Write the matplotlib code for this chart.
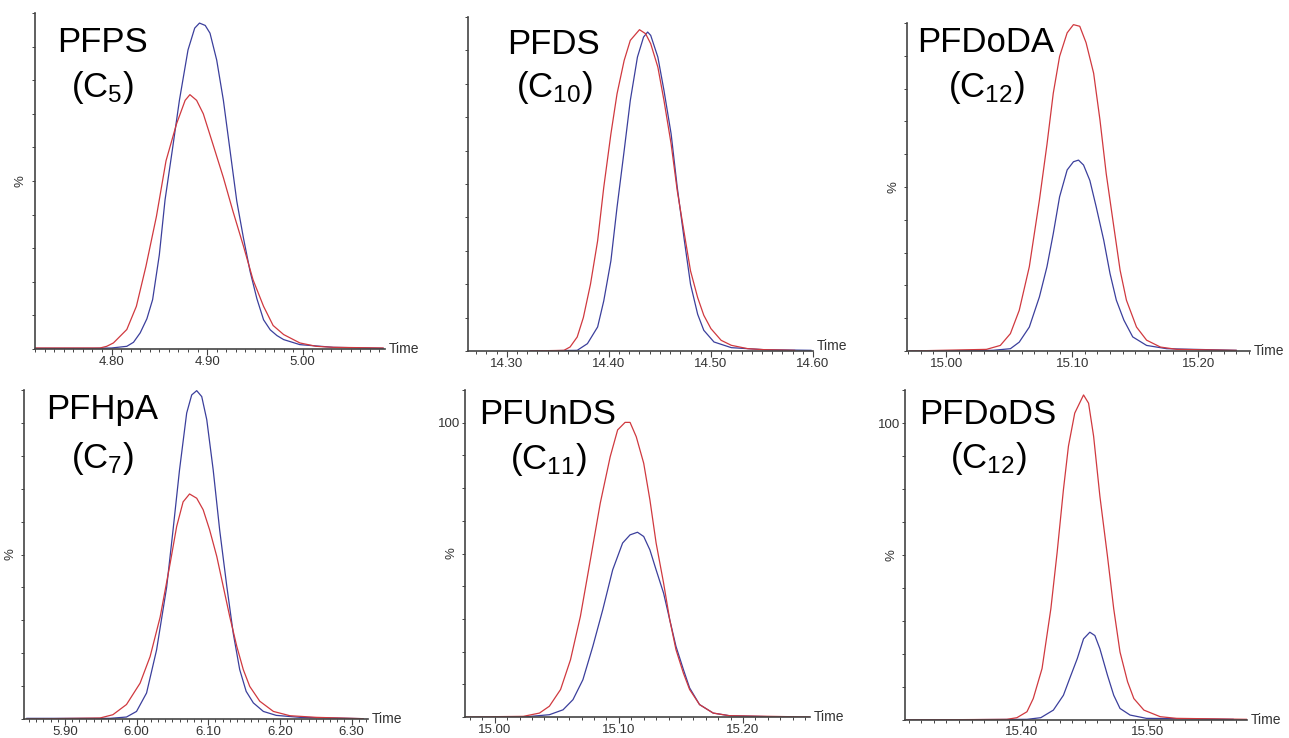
import matplotlib
matplotlib.use('Agg')
import matplotlib.pyplot as plt
from matplotlib.ticker import MultipleLocator, FixedLocator

plt.rcParams['font.family'] = ['Liberation Sans', 'DejaVu Sans']

# ---- data (time in min, intensity in %) ----
# PFPS (C5)
pfps_blue_t = [4.720, 4.781, 4.800, 4.816, 4.823, 4.830, 4.837, 4.843, 4.850, 4.856, 4.864, 4.871,
               4.880, 4.887, 4.892, 4.898, 4.903, 4.910, 4.917, 4.924, 4.931, 4.938, 4.945, 4.952,
               4.959, 4.966, 4.973, 4.980, 4.997, 5.032, 5.084]
pfps_blue_y = [0.2, 0.2, 0.3, 0.8, 2.0, 4.8, 9.0, 14.7, 28, 44.4, 60, 74,
               89, 95.5, 97.0, 96.3, 94, 86, 74, 59, 44, 33, 23, 15,
               8.7, 5.7, 4.0, 2.8, 1.3, 0.5, 0.2]
pfps_red_t = [4.720, 4.788, 4.795, 4.802, 4.816, 4.826, 4.836, 4.847, 4.857, 4.868, 4.877, 4.882,
              4.889, 4.896, 4.906, 4.917, 4.927, 4.938, 4.948, 4.959, 4.969, 4.980, 4.997, 5.014,
              5.032, 5.084]
pfps_red_y = [0.3, 0.3, 0.8, 1.8, 5.8, 12.7, 24.6, 39.5, 56, 67, 74, 75.7,
              74, 70, 61, 51, 41, 30.6, 20.6, 12.7, 7, 4.3, 1.8, 0.8,
              0.5, 0.3]

# PFDS (C10)
pfds_blue_t = [14.323, 14.369, 14.379, 14.389, 14.395, 14.402, 14.408, 14.415, 14.421, 14.428,
               14.434, 14.438, 14.441, 14.448, 14.454, 14.461, 14.467, 14.474, 14.480, 14.487,
               14.493, 14.503, 14.520, 14.552, 14.598]
pfds_blue_y = [0, 0.2, 2.2, 7.2, 15, 27, 43, 60, 75, 88,
               94, 95.5, 94.5, 88, 78, 65, 49, 33, 20, 11,
               6.2, 2.7, 1.0, 0.4, 0.2]
pfds_red_t = [14.323, 14.356, 14.362, 14.369, 14.375, 14.382, 14.389, 14.395, 14.402, 14.408,
              14.415, 14.421, 14.430, 14.436, 14.441, 14.448, 14.454, 14.461, 14.467, 14.474,
              14.480, 14.487, 14.493, 14.500, 14.510, 14.520, 14.536, 14.552, 14.582]
pfds_red_y = [0, 0.2, 1.2, 4.2, 10, 20, 33, 49, 65, 77,
              87, 93, 96.2, 95, 92, 85, 75, 62, 48, 35,
              24, 16, 10.7, 6.7, 3.2, 1.7, 0.7, 0.4, 0.2]

# PFDoDA (C12)
pfdoda_blue_t = [14.971, 15.037, 15.051, 15.058, 15.066, 15.074, 15.080, 15.085, 15.090, 15.096,
                 15.101, 15.105, 15.109, 15.114, 15.119, 15.125, 15.130, 15.135, 15.141, 15.148,
                 15.159, 15.175, 15.230]
pfdoda_blue_y = [0, 0.2, 0.7, 2.7, 7.3, 16.5, 25.7, 35.8, 47, 55.2,
                 57.7, 58.2, 56.7, 52, 44, 33.8, 23.6, 15.5, 9.4, 4.3,
                 1.7, 0.7, 0.2]
pfdoda_red_t = [14.971, 15.032, 15.043, 15.051, 15.058, 15.066, 15.074, 15.080, 15.085, 15.090,
                15.096, 15.101, 15.106, 15.111, 15.117, 15.122, 15.127, 15.133, 15.138, 15.143,
                15.151, 15.159, 15.170, 15.183, 15.230]
pfdoda_red_y = [0, 0.5, 1.7, 5.3, 12.4, 25.7, 46, 63, 78.6, 89.8,
                97, 99.5, 99, 94, 84.7, 70.5, 54, 37.9, 24.6, 15.5,
                7.3, 3.3, 1.2, 0.5, 0.2]

# PFHpA (C7)
pfhpa_blue_t = [5.847, 5.963, 5.986, 6.000, 6.014, 6.028, 6.042, 6.051, 6.060, 6.070,
                6.077, 6.084, 6.091, 6.098, 6.107, 6.116, 6.126, 6.135, 6.144, 6.153,
                6.163, 6.177, 6.195, 6.228, 6.274, 6.316]
pfhpa_blue_y = [0.2, 0.2, 0.6, 2.3, 7.9, 21, 40, 57.5, 75.7, 93,
                98.5, 99.8, 98, 91, 75.7, 57.5, 40.3, 26, 15, 8.4,
                4.9, 2.3, 1.1, 0.5, 0.3, 0.1]
pfhpa_red_t = [5.847, 5.949, 5.967, 5.986, 6.005, 6.019, 6.033, 6.047, 6.056, 6.065,
               6.074, 6.084, 6.093, 6.102, 6.112, 6.121, 6.130, 6.140, 6.149, 6.158,
               6.172, 6.191, 6.214, 6.251, 6.316]
pfhpa_red_y = [0, 0.3, 1.3, 4.4, 10.9, 19, 31, 47.4, 58.5, 66,
               68.4, 67.1, 63.6, 57.5, 49.4, 40.3, 31.2, 22, 15, 9.9,
               5.4, 2.3, 1.0, 0.5, 0.1]

# PFUnDS (C11)
pfunds_blue_t = [15.023, 15.044, 15.055, 15.063, 15.071, 15.079, 15.087, 15.095, 15.103, 15.109,
                 15.115, 15.120, 15.125, 15.130, 15.136, 15.141, 15.146, 15.152, 15.157, 15.165,
                 15.176, 15.189, 15.232]
pfunds_blue_y = [0, 0.7, 2.2, 5.3, 11.4, 21.6, 32.8, 45, 53.2, 55.7,
                 56.5, 55.2, 51.1, 45, 37.9, 29.7, 21.6, 14.5, 8.9, 3.8,
                 1.2, 0.4, 0]
pfunds_red_t = [14.977, 15.023, 15.036, 15.044, 15.053, 15.061, 15.069, 15.077, 15.085, 15.093,
                15.099, 15.105, 15.109, 15.114, 15.120, 15.125, 15.130, 15.136, 15.141, 15.146,
                15.152, 15.157, 15.165, 15.176, 15.189, 15.254]
pfunds_red_y = [0, 0.2, 1.2, 3.3, 8.4, 17.5, 30.8, 48, 65.4, 79.6,
                87.8, 90.1, 90.1, 85.7, 77.6, 66.4, 53.2, 41, 29.7, 20.6,
                13.4, 8.4, 3.8, 1.2, 0.4, 0]

# PFDoDS (C12)
pfdods_blue_t = [15.308, 15.404, 15.415, 15.425, 15.433, 15.438, 15.444, 15.449, 15.454, 15.458,
                 15.462, 15.468, 15.473, 15.478, 15.486, 15.499, 15.568]
pfdods_blue_y = [0, 0.2, 0.7, 3, 7.5, 12.6, 18.6, 24.6, 26.6, 25.6,
                 21.6, 13.6, 7.5, 3.5, 1.5, 0.5, 0.2]
pfdods_red_t = [15.308, 15.388, 15.396, 15.404, 15.409, 15.416, 15.423, 15.428, 15.433, 15.437,
                15.442, 15.449, 15.453, 15.457, 15.462, 15.468, 15.473, 15.478, 15.484, 15.489,
                15.497, 15.510, 15.523, 15.579]
pfdods_red_y = [0, 0.2, 0.7, 2.5, 6.5, 15.6, 33.7, 50.8, 69.8, 83,
                93, 98.5, 96, 86, 67.8, 49.7, 33.7, 20.6, 11.6, 6.5,
                3, 1, 0.5, 0.2]

names = ['PFPS', 'PFDS', 'PFDoDA', 'PFHpA', 'PFUnDS', 'PFDoDS']
carbons = ['5', '10', '12', '7', '11', '12']
x_limits = [(4.720, 5.086), (14.262, 14.600), (14.969, 15.241),
            (5.843, 6.323), (14.976, 15.254), (15.307, 15.579)]
x_ticks = [[4.80, 4.90, 5.00], [14.30, 14.40, 14.50, 14.60], [15.00, 15.10, 15.20],
           [5.90, 6.00, 6.10, 6.20, 6.30], [15.00, 15.10, 15.20], [15.40, 15.50]]
series = [
    (pfps_red_t, pfps_red_y, pfps_blue_t, pfps_blue_y),
    (pfds_red_t, pfds_red_y, pfds_blue_t, pfds_blue_y),
    (pfdoda_red_t, pfdoda_red_y, pfdoda_blue_t, pfdoda_blue_y),
    (pfhpa_red_t, pfhpa_red_y, pfhpa_blue_t, pfhpa_blue_y),
    (pfunds_red_t, pfunds_red_y, pfunds_blue_t, pfunds_blue_y),
    (pfdods_red_t, pfdods_red_y, pfdods_blue_t, pfdods_blue_y),
]
show_pct = [True, False, True, True, True, True]
y_labels = [['0'], [], [], [], ['0', '100'], ['0', '100']]

# panel boxes in pixels: left, right, top, bottom
W, H = 1289, 738
boxes = [(35, 385, 13, 349), (468, 813, 17, 351), (907, 1250, 23, 351),
         (24, 368, 390, 719), (465, 810, 390, 717), (905, 1247, 390, 720)]
# title centre x, name y, carbon-number y
title_pos = [(102, 42, 88), (554, 45, 87), (986, 43, 87),
             (102, 410, 458), (548, 415, 460), (988, 415, 458)]

RED = '#d0393f'
BLUE = '#3b3f9c'
GREY = '#444444'

fig = plt.figure(figsize=(W / 100, H / 100), dpi=100)

for i in range(6):
    l, r, t, b = boxes[i]
    ax = fig.add_axes([l / W, 1 - b / H, (r - l) / W, (b - t) / H])
    red_t, red_y, blue_t, blue_y = series[i]
    ax.plot(blue_t, blue_y, color=BLUE, lw=0.9)
    ax.plot(red_t, red_y, color=RED, lw=0.9)
    ax.set_xlim(*x_limits[i])
    ax.set_ylim(0, 100)

    for s in ['top', 'right']:
        ax.spines[s].set_visible(False)
    for s in ['left', 'bottom']:
        ax.spines[s].set_color(GREY)
        ax.spines[s].set_linewidth(1.2)

    ax.xaxis.set_major_locator(FixedLocator(x_ticks[i]))
    ax.set_xticklabels(['%.2f' % v for v in x_ticks[i]])
    ax.xaxis.set_minor_locator(MultipleLocator(0.01))
    ax.tick_params(axis='x', which='major', length=4, width=0.8, color=GREY,
                   labelsize=9.5, labelcolor='#333333', pad=1 if i != 5 else 0)
    ax.tick_params(axis='x', which='minor', length=2.5, width=0.7, color=GREY)

    ax.yaxis.set_major_locator(MultipleLocator(10))
    labs = []
    for v in range(0, 101, 10):
        if str(v) in y_labels[i]:
            labs.append(str(v))
        else:
            labs.append('')
    ax.set_yticklabels(labs)
    ax.tick_params(axis='y', length=2.5, width=0.7, color=GREY,
                   labelsize=9.5, labelcolor='#333333', pad=1)

    if show_pct[i]:
        ax.text(-0.04, 0.5, '%', transform=ax.transAxes, rotation=90,
                ha='center', va='center', fontsize=9.5, color='#333333')
    ax.text(1.01, 0.0 if i != 1 else 0.015, 'Time', transform=ax.transAxes,
            ha='left', va='center', fontsize=10, color='#333333')

    cx, y1, y2 = title_pos[i]
    fig.text(cx / W, 1 - y1 / H, names[i], ha='center', va='center', fontsize=25)
    fig.text(cx / W, 1 - y2 / H, r'(C$\mathregular{_{%s}}$)' % carbons[i],
             ha='center', va='center', fontsize=25)

fig.savefig('out.png', dpi=100)
